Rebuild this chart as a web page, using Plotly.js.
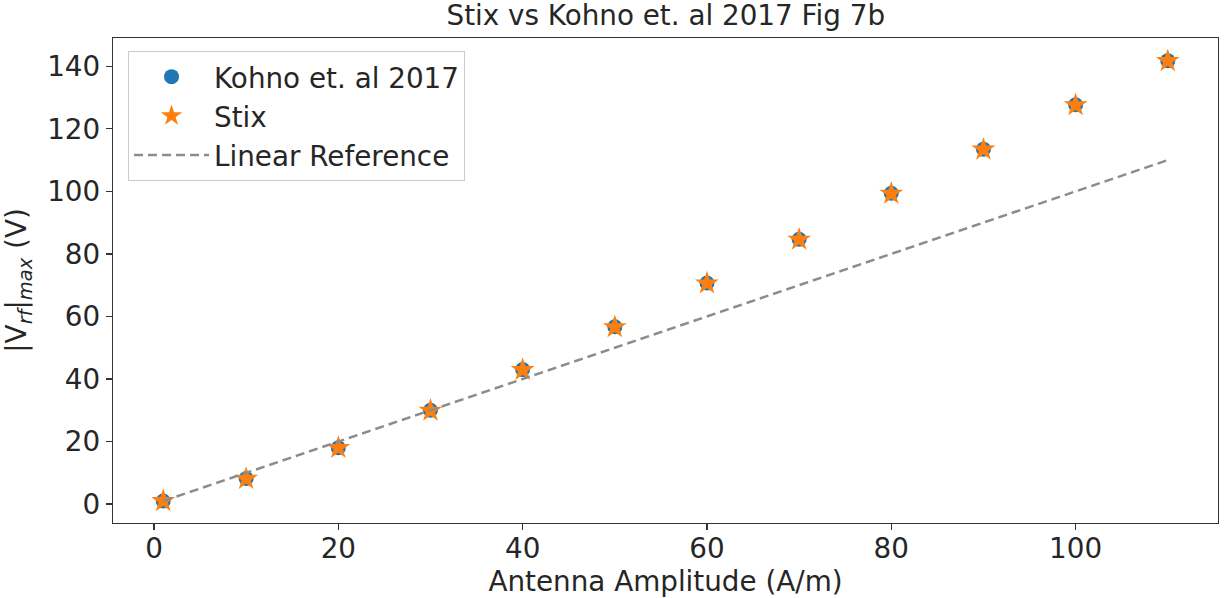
<!DOCTYPE html>
<html>
<head>
<meta charset="utf-8">
<script src="https://cdn.plot.ly/plotly-3.0.1.min.js"></script>
<style>html,body{margin:0;padding:0;background:#fff;}#chart{width:1225px;height:598px;}</style>
</head>
<body>
<div id="chart"></div>
<script>
const amplitude = [1, 10, 20, 30, 40, 50, 60, 70, 80, 90, 100, 110];
const kohno = [1.0, 8.2, 18.0, 30.0, 43.0, 56.7, 70.7, 84.7, 99.4, 113.5, 127.7, 141.8];
const stix  = [1.0, 8.1, 18.0, 29.9, 42.9, 56.6, 70.6, 84.6, 99.3, 113.4, 127.6, 141.7];
const linearX = [1, 110];
const linearY = [1, 110];
const xTicks = [0, 20, 40, 60, 80, 100];
const yTicks = [0, 20, 40, 60, 80, 100, 120, 140];

const font = {family: 'DejaVu Sans, sans-serif', size: 27.8, color: '#262626'};

const traces = [
  {x: amplitude, y: kohno, mode: 'markers', type: 'scatter', name: 'Kohno et. al 2017',
   marker: {color: '#1f77b4', size: 15, symbol: 'circle'}},
  {x: amplitude, y: stix, mode: 'markers', type: 'scatter', name: 'Stix',
   marker: {color: '#ff7f0e', size: 18, symbol: 'star'}},
  {x: linearX, y: linearY, mode: 'lines', type: 'scatter', name: 'Linear Reference',
   line: {color: '#8c8c8c', width: 2.5, dash: '9px,5px'}}
];

const axisCommon = {
  showgrid: false, zeroline: false, showline: true, mirror: true,
  linecolor: '#333', linewidth: 1.2, ticks: 'outside', ticklen: 6, tickwidth: 1.2,
  tickcolor: '#333', tickfont: font
};

const layout = {
  width: 1225, height: 598,
  margin: {l: 113, r: 7, t: 38, b: 75},
  paper_bgcolor: '#fff', plot_bgcolor: '#fff',
  font: font,
  title: {text: 'Stix vs Kohno et. al 2017 Fig 7b', font: font, x: 0.5435, xanchor: 'center', y: 0.975, yanchor: 'middle'},
  xaxis: Object.assign({}, axisCommon, {
    range: [-4.45, 115.45], tickvals: xTicks, ticktext: xTicks.map(String),
    ticklabelstandoff: -6,
    title: {text: 'Antenna Amplitude (A/m)', font: font, standoff: 8}
  }),
  yaxis: Object.assign({}, axisCommon, {
    range: [-6.05, 149.05], tickvals: yTicks, ticktext: yTicks.map(String),
    title: {text: '|V<sub><i>rf</i></sub>|<sub><i>max</i></sub> (V)', font: font, standoff: 12}
  }),
  showlegend: true,
  legend: {
    x: 0.0136, y: 0.973, xanchor: 'left', yanchor: 'top',
    bgcolor: 'rgba(255,255,255,0.8)', bordercolor: '#cccccc', borderwidth: 1,
    font: font, itemwidth: 75, tracegroupgap: 0
  }
};

Plotly.newPlot('chart', traces, layout, {displayModeBar: false, staticPlot: true});
</script>
</body>
</html>
